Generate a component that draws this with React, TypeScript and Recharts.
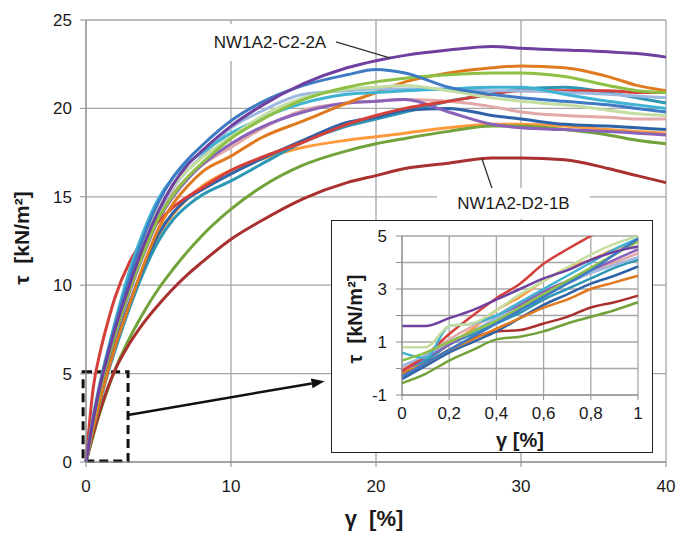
import React from "react";
import {
  LineChart, Line, XAxis, YAxis, CartesianGrid,
  ReferenceArea, ReferenceLine,
} from "recharts";

// shared x positions (γ in %)
const mainX = [0, 0.5, 1, 1.5, 2, 3, 4, 5, 6, 7, 8, 10, 12, 15, 18, 20, 22, 25, 28, 30, 33, 36, 38, 40];
const insetX = [0, 0.1, 0.2, 0.3, 0.4, 0.5, 0.6, 0.7, 0.8, 0.9, 1];

const mainTicksX = [0, 10, 20, 30, 40];
const mainTicksY = [0, 5, 10, 15, 20, 25];
const insetTicksX = [0, 0.2, 0.4, 0.6, 0.8, 1];
const insetTicksY = [-1, 0, 1, 2, 3, 4, 5];

// τ values, main chart
const c22aMain = [0, 2.4, 4.4, 6.0, 7.5, 10.0, 12.3, 14.2, 15.7, 16.8, 17.6, 19.0, 20.1, 21.4, 22.3, 22.7, 23.0, 23.3, 23.5, 23.4, 23.3, 23.2, 23.1, 22.9];
const blueMain = [0, 2.5, 4.5, 6.2, 7.7, 10.4, 12.8, 14.7, 16.1, 17.1, 17.9, 19.3, 20.3, 21.3, 21.9, 22.2, 22.0, 21.2, 20.8, 20.6, 20.4, 20.2, 20.0, 19.8];
const periMain = [0, 2.4, 4.3, 5.9, 7.3, 9.9, 12.2, 14.1, 15.5, 16.5, 17.3, 18.9, 19.8, 20.8, 21.0, 21.1, 21.1, 21.1, 21.0, 21.0, 20.9, 20.8, 20.7, 20.6];
const aquaMain = [0, 2.6, 4.6, 6.3, 7.9, 10.8, 13.1, 14.9, 16.1, 16.9, 17.5, 18.6, 19.4, 20.3, 20.8, 20.9, 21.0, 21.1, 21.2, 21.2, 20.8, 20.4, 20.2, 20.0];
const lgreenMain = [0, 2.5, 4.5, 6.1, 7.5, 10.1, 12.4, 14.3, 15.6, 16.5, 17.2, 18.4, 19.5, 20.6, 21.1, 21.2, 21.3, 21.0, 20.6, 20.4, 20.2, 19.9, 19.7, 19.6];
const greenMain = [0, 2.3, 4.2, 5.8, 7.2, 9.7, 11.9, 13.8, 15.1, 16.1, 16.9, 18.3, 19.3, 20.5, 21.2, 21.5, 21.7, 21.9, 22.0, 22.0, 21.8, 21.3, 21.0, 20.9];
const pinkMain = [0, 2.4, 4.3, 5.9, 7.2, 9.7, 12.0, 14.0, 15.2, 16.1, 16.8, 17.8, 18.8, 19.9, 20.3, 20.4, 20.5, 20.4, 20.1, 19.8, 19.6, 19.5, 19.4, 19.4];
const purpleMain = [0, 2.3, 4.2, 5.8, 7.1, 9.6, 11.8, 13.7, 15.0, 16.0, 16.8, 18.0, 18.9, 19.8, 20.3, 20.4, 20.5, 19.8, 19.1, 18.9, 18.8, 18.7, 18.6, 18.5];
const dorangeMain = [0, 1.9, 3.6, 5.1, 6.5, 8.9, 11.2, 13.2, 14.6, 15.6, 16.4, 17.3, 18.3, 19.3, 20.3, 20.9, 21.5, 22.0, 22.3, 22.4, 22.3, 21.8, 21.3, 21.0];
const redMain = [0, 4.2, 6.3, 7.9, 9.3, 11.3, 12.6, 13.6, 14.4, 15.0, 15.5, 16.5, 17.2, 18.1, 19.1, 19.6, 20.0, 20.4, 20.8, 21.0, 21.0, 21.0, 20.9, 20.9];
const lorangeMain = [0, 2.0, 3.7, 5.2, 6.5, 8.9, 11.0, 12.8, 14.0, 14.9, 15.6, 16.5, 17.1, 17.8, 18.2, 18.4, 18.6, 18.9, 19.1, 19.1, 19.0, 18.8, 18.7, 18.6];
const dblueMain = [0, 2.0, 3.7, 5.2, 6.6, 9.0, 11.1, 12.9, 14.1, 14.9, 15.4, 16.3, 17.1, 18.2, 19.2, 19.5, 19.9, 20.0, 19.6, 19.4, 19.1, 19.0, 18.9, 18.8];
const tealMain = [0, 1.9, 3.5, 5.0, 6.3, 8.7, 10.8, 12.5, 13.7, 14.5, 15.1, 15.9, 16.8, 18.1, 19.0, 19.4, 19.8, 20.4, 20.8, 21.1, 21.2, 20.9, 20.6, 20.3];
const oliveMain = [0, 1.5, 2.9, 4.1, 5.2, 7.0, 8.5, 9.8, 10.9, 11.9, 12.8, 14.3, 15.5, 16.8, 17.6, 18.0, 18.3, 18.7, 19.0, 19.0, 18.8, 18.5, 18.2, 18.0];
const d21bMain = [0, 1.6, 3.0, 4.2, 5.2, 6.7, 7.9, 8.9, 9.8, 10.6, 11.3, 12.6, 13.6, 14.9, 15.8, 16.2, 16.6, 16.9, 17.2, 17.2, 17.1, 16.6, 16.2, 15.8];

// τ values, zoomed inset (0..1 %)
const c22aInset = [1.6, 1.6, 1.9, 2.2, 2.6, 3.0, 3.4, 3.7, 4.1, 4.4, 4.6];
const blueInset = [-0.3, 0.2, 0.7, 1.2, 1.7, 2.2, 2.7, 3.2, 3.7, 4.3, 4.9];
const periInset = [0.1, 0.5, 1.0, 1.4, 1.9, 2.3, 2.8, 3.2, 3.6, 3.9, 4.2];
const aquaInset = [0.6, 0.4, 1.6, 1.7, 2.0, 2.5, 3.0, 3.5, 4.0, 4.5, 4.9];
const lgreenInset = [0.8, 0.8, 1.6, 1.7, 2.2, 2.8, 3.3, 3.8, 4.3, 4.7, 5.0];
const greenInset = [0.3, 0.6, 1.0, 1.4, 1.8, 2.3, 2.8, 3.3, 3.8, 4.3, 4.8];
const pinkInset = [0.0, 0.5, 1.1, 1.6, 2.0, 2.5, 2.9, 3.3, 3.7, 4.0, 4.35];
const purpleInset = [-0.1, 0.4, 0.9, 1.4, 1.9, 2.4, 2.9, 3.3, 3.7, 4.1, 4.5];
const dorangeInset = [-0.2, 0.2, 0.7, 1.1, 1.5, 1.9, 2.3, 2.6, 3.0, 3.25, 3.5];
const redInset = [-0.1, 0.5, 1.3, 2.0, 2.65, 3.2, 3.95, 4.5, 5.0, 5.5, 6.0];
const lorangeInset = [-0.2, 0.3, 0.9, 1.5, 2.2, 2.7, 3.3, 3.8, 4.1, 4.5, 4.8];
const dblueInset = [-0.4, 0.1, 0.6, 1.0, 1.4, 1.9, 2.4, 2.8, 3.2, 3.5, 3.85];
const tealInset = [0.0, 0.3, 0.9, 1.3, 1.7, 2.1, 2.6, 3.0, 3.4, 3.8, 4.1];
const oliveInset = [-0.55, -0.2, 0.3, 0.7, 1.1, 1.2, 1.4, 1.7, 1.95, 2.2, 2.5];
const d21bInset = [-0.3, 0.2, 0.7, 1.15, 1.4, 1.45, 1.7, 1.95, 2.3, 2.5, 2.75];

const series = [
  { key: "lorange", color: "#FF9A3C", main: lorangeMain, inset: lorangeInset },
  { key: "olive", color: "#72A23A", main: oliveMain, inset: oliveInset },
  { key: "d21b", color: "#A8302E", main: d21bMain, inset: d21bInset },
  { key: "teal", color: "#2D97B4", main: tealMain, inset: tealInset },
  { key: "dblue", color: "#2F63A8", main: dblueMain, inset: dblueInset },
  { key: "pink", color: "#E3A8A8", main: pinkMain, inset: pinkInset },
  { key: "purple", color: "#8A63B8", main: purpleMain, inset: purpleInset },
  { key: "red", color: "#D43F3A", main: redMain, inset: redInset },
  { key: "dorange", color: "#E07A1F", main: dorangeMain, inset: dorangeInset },
  { key: "peri", color: "#9DB8E0", main: periMain, inset: periInset },
  { key: "aqua", color: "#3FB3D2", main: aquaMain, inset: aquaInset },
  { key: "lgreen", color: "#C4DDA0", main: lgreenMain, inset: lgreenInset },
  { key: "green", color: "#8DC044", main: greenMain, inset: greenInset },
  { key: "blue", color: "#3F7BC5", main: blueMain, inset: blueInset },
  { key: "c22a", color: "#7040A0", main: c22aMain, inset: c22aInset },
];

const mainRows = mainX.map((x, i) => {
  const row: any = { x };
  series.forEach((s) => (row[s.key] = s.main[i]));
  return row;
});
const insetRows = insetX.map((x, i) => {
  const row: any = { x };
  series.forEach((s) => (row[s.key] = s.inset[i]));
  return row;
});

const FONT = '"Liberation Sans", Arial, sans-serif';
const GRID = "#A6A6A6";
const AXIS = "#8C8C8C";

const Arrow = (p: any) => {
  const { x1, y1, x2, y2 } = p;
  const a = Math.atan2(y2 - y1, x2 - x1);
  const L = 13, W = 5;
  const bx = x2 - L * Math.cos(a), by = y2 - L * Math.sin(a);
  const pts = [
    [x2, y2],
    [bx + W * Math.sin(a), by - W * Math.cos(a)],
    [bx - W * Math.sin(a), by + W * Math.cos(a)],
  ].map((q) => q.join(",")).join(" ");
  return (
    <g>
      <line x1={x1} y1={y1} x2={bx} y2={by} stroke="#111" strokeWidth={2.5} />
      <polygon points={pts} fill="#111" />
    </g>
  );
};

const title: React.CSSProperties = {
  position: "absolute", fontWeight: "bold", fontSize: 21, color: "#1a1a1a",
  whiteSpace: "pre", fontFamily: FONT,
};

export default function App() {
  return (
    <div style={{ position: "absolute", left: 0, top: 0, width: 678, height: 534, background: "#fff", fontFamily: FONT }}>
      <LineChart width={678} height={534} data={mainRows} margin={{ top: 20, right: 12, left: 20, bottom: 32 }}>
        <CartesianGrid stroke={GRID} strokeWidth={1.3} />
        <XAxis type="number" dataKey="x" domain={[0, 40]} ticks={mainTicksX} height={40}
          stroke={AXIS} tick={{ fill: "#1a1a1a", fontSize: 17 }} tickSize={5} tickMargin={13} />
        <YAxis type="number" domain={[0, 25]} ticks={mainTicksY} width={66}
          stroke={AXIS} tick={{ fill: "#1a1a1a", fontSize: 17 }} tickSize={6} tickMargin={8} />
        {series.map((s) => (
          <Line key={s.key} type="monotone" dataKey={s.key} stroke={s.color} strokeWidth={3}
            dot={false} isAnimationActive={false} />
        ))}
        <ReferenceArea x1={-0.2} x2={2.9} y1={0.05} y2={5.1} ifOverflow="visible"
          fill="none" fillOpacity={0} stroke="#111" strokeWidth={3} strokeDasharray="9 5" />
        <ReferenceLine segment={[{ x: 2.9, y: 2.66 }, { x: 16.45, y: 4.57 }]} ifOverflow="visible" shape={Arrow} />
        <ReferenceLine segment={[{ x: 17.24, y: 23.76 }, { x: 21.0, y: 22.85 }]} ifOverflow="visible" stroke="#333" strokeWidth={1.3} />
        <ReferenceLine segment={[{ x: 27.3, y: 17.17 }, { x: 28.0, y: 15.48 }]} ifOverflow="visible" stroke="#333" strokeWidth={1.3} />
      </LineChart>

      {/* axis titles */}
      <div style={{ ...title, fontSize: 22, left: 374, top: 519, transform: "translate(-50%,-50%)" }}>{"γ  [%]"}</div>
      <div style={{ ...title, left: 22, top: 238, transform: "translate(-50%,-50%) rotate(-90deg)" }}>{"τ  [kN/m²]"}</div>

      {/* annotations */}
      <div style={{ position: "absolute", left: 205, top: 24, width: 130, height: 37, background: "#fff",
        display: "flex", alignItems: "center", justifyContent: "center", fontSize: 17, color: "#1a1a1a" }}>NW1A2-C2-2A</div>
      <div style={{ position: "absolute", left: 437, top: 188, width: 153, height: 31, background: "#fff",
        display: "flex", alignItems: "center", justifyContent: "center", fontSize: 17, color: "#1a1a1a" }}>NW1A2-D2-1B</div>

      {/* inset */}
      <div style={{ position: "absolute", left: 331, top: 220, width: 322, height: 233, boxSizing: "border-box",
        border: "1px solid #222", background: "#fff" }}>
        <LineChart width={320} height={231} data={insetRows} margin={{ top: 15, right: 14, left: 0, bottom: 0 }}>
          <CartesianGrid stroke={GRID} strokeWidth={1.3} />
          <XAxis type="number" dataKey="x" domain={[0, 1]} ticks={insetTicksX} height={57}
            stroke={AXIS} tick={{ fill: "#1a1a1a", fontSize: 17 }} tickSize={5} tickMargin={7}
            tickFormatter={(v: number) => String(v).replace(".", ",")} />
          <YAxis type="number" domain={[-1, 5]} ticks={insetTicksY} width={70} allowDataOverflow
            stroke={AXIS} tick={{ fill: "#1a1a1a", fontSize: 17 }} tickSize={6} tickMargin={9}
            tickFormatter={(v: number) => (v % 2 !== 0 ? String(v) : "")} />
          {series.map((s) => (
            <Line key={s.key} type="monotone" dataKey={s.key} stroke={s.color} strokeWidth={2.5}
              dot={false} isAnimationActive={false} />
          ))}
        </LineChart>
        <div style={{ ...title, fontSize: 20, left: 23, top: 98, transform: "translate(-50%,-50%) rotate(-90deg)" }}>{"τ  [kN/m²]"}</div>
        <div style={{ ...title, fontSize: 20, left: 188, top: 219, transform: "translate(-50%,-50%)" }}>{"γ [%]"}</div>
      </div>
    </div>
  );
}
